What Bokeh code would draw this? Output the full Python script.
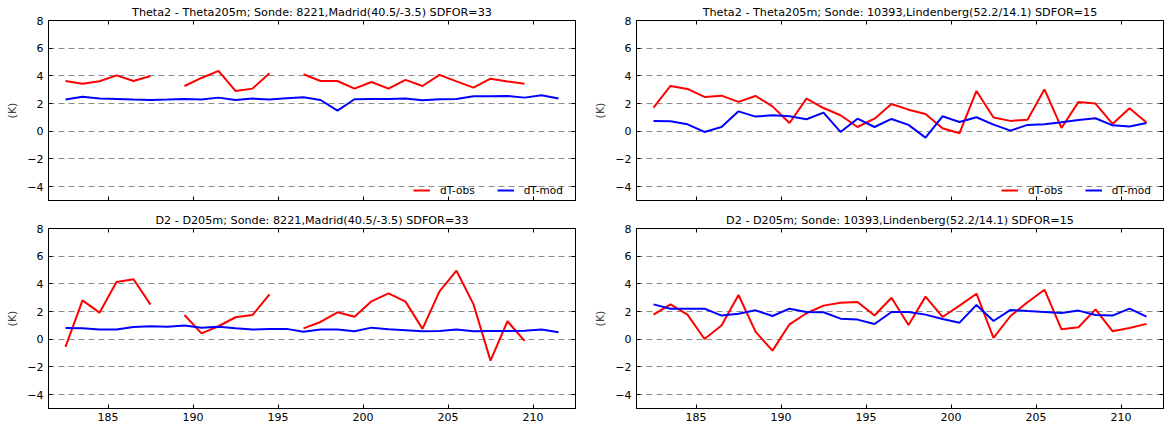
import numpy as np
from bokeh.plotting import figure
from bokeh.layouts import column, row
from bokeh.models import (FixedTicker, LinearAxis, Range1d,
                          CustomJSTickFormatter, Legend, LegendItem)
from bokeh.embed import file_html
from bokeh.resources import INLINE

nan = np.nan
days = [182.5 + i for i in range(30)]

# Theta2 - Theta205m, Madrid
madrid_theta_obs = [3.63, 3.44, 3.61, 4.04, 3.63, 3.99, nan, 3.27, 3.85, 4.36,
                    2.91, 3.08, 4.19, nan, 4.12, 3.63, 3.63, 3.08, 3.56, 3.08,
                    3.71, 3.27, 4.07, 3.60, 3.15, 3.80, 3.60, 3.44, nan, nan]
madrid_theta_mod = [2.29, 2.50, 2.36, 2.33, 2.29, 2.26, 2.29, 2.33, 2.29, 2.43,
                    2.26, 2.36, 2.29, 2.38, 2.45, 2.26, 1.49, 2.31, 2.33, 2.33,
                    2.36, 2.24, 2.31, 2.33, 2.53, 2.53, 2.55, 2.43, 2.60, 2.36]
# Theta2 - Theta205m, Lindenberg
lind_theta_obs = [1.71, 3.27, 3.06, 2.48, 2.57, 2.12, 2.55, 1.80, 0.60, 2.36,
                  1.68, 1.16, 0.31, 0.91, 1.97, 1.56, 1.25, 0.22, -0.14, 2.91,
                  0.99, 0.75, 0.84, 3.03, 0.24, 2.12, 2.00, 0.53, 1.66, 0.63]
lind_theta_mod = [0.75, 0.72, 0.50, -0.05, 0.31, 1.44, 1.06, 1.16, 1.08, 0.87,
                  1.35, -0.05, 0.91, 0.31, 0.89, 0.46, -0.46, 1.08, 0.67, 1.01,
                  0.48, 0.05, 0.46, 0.50, 0.65, 0.82, 0.94, 0.43, 0.34, 0.60]
# D2 - D205m, Madrid
madrid_d_obs = [-0.55, 2.81, 1.92, 4.13, 4.33, 2.50, nan, 1.75, 0.43, 0.94,
                1.59, 1.75, 3.25, nan, 0.79, 1.25, 1.95, 1.63, 2.74, 3.32,
                2.72, 0.75, 3.46, 4.95, 2.52, -1.54, 1.30, -0.12, nan, nan]
madrid_d_mod = [0.82, 0.79, 0.70, 0.70, 0.89, 0.94, 0.91, 0.99, 0.84, 0.91,
                0.79, 0.70, 0.75, 0.75, 0.55, 0.70, 0.70, 0.58, 0.84, 0.72,
                0.65, 0.58, 0.60, 0.70, 0.58, 0.60, 0.60, 0.62, 0.70, 0.50]
# D2 - D205m, Lindenberg
lind_d_obs = [1.78, 2.52, 1.78, 0.02, 0.99, 3.20, 0.55, -0.82, 1.08, 1.88,
              2.43, 2.64, 2.69, 1.72, 3.00, 1.03, 3.08, 1.61, 2.43, 3.29,
              0.10, 1.68, 2.67, 3.58, 0.72, 0.87, 2.16, 0.58, 0.82, 1.11]
lind_d_mod = [2.52, 2.21, 2.21, 2.21, 1.71, 1.85, 2.09, 1.68, 2.21, 1.97,
              1.95, 1.49, 1.42, 1.10, 1.97, 1.97, 1.78, 1.47, 1.20, 2.48,
              1.32, 2.12, 2.04, 1.97, 1.90, 2.07, 1.75, 1.71, 2.21, 1.63]

titles = [
    "Theta2 - Theta205m; Sonde: 8221,Madrid(40.5/-3.5) SDFOR=33",
    "Theta2 - Theta205m; Sonde: 10393,Lindenberg(52.2/14.1) SDFOR=15",
    "D2 - D205m; Sonde: 8221,Madrid(40.5/-3.5) SDFOR=33",
    "D2 - D205m; Sonde: 10393,Lindenberg(52.2/14.1) SDFOR=15",
]
x_ticks = [185, 190, 195, 200, 205, 210]
y_ticks = [-4, -2, 0, 2, 4, 6, 8]
series_names = ["dT-obs", "dT-mod"]

FONT = "DejaVu Sans"
fmt = CustomJSTickFormatter(code="return (tick < 0 ? '\u2212' : '') + Math.abs(tick).toString();")


def style_axis(ax, labels=True):
    ax.major_tick_in = 4
    ax.major_tick_out = 0
    ax.minor_tick_line_color = None
    ax.major_tick_line_color = "black"
    ax.axis_line_color = "black"
    if labels:
        ax.major_label_text_font = FONT
        ax.major_label_text_font_size = "11px"
        ax.major_label_text_color = "black"
    else:
        ax.major_label_text_font_size = "1px"
        ax.major_label_text_color = None
        ax.major_label_standoff = 0


def make_panel(title, obs, mod, width, height, left, right, top, bottom, xlabels):
    p = figure(width=width, height=height, output_backend="svg",
               toolbar_location=None, x_range=Range1d(181.5, 212.5),
               y_range=Range1d(-5, 8), min_border_left=left,
               min_border_right=right, min_border_top=top,
               min_border_bottom=bottom, title=title)
    p.title.align = "center"
    p.title.text_font = FONT
    p.title.text_font_size = "11.2px"
    p.title.text_font_style = "normal"
    p.title.text_color = "black"
    p.title.standoff = 3
    p.background_fill_color = "white"
    p.border_fill_color = "white"
    p.outline_line_color = "black"
    p.outline_line_alpha = 1.0
    p.xgrid.visible = False
    p.ygrid.ticker = FixedTicker(ticks=y_ticks)
    p.ygrid.grid_line_color = "#8c8c8c"
    p.ygrid.grid_line_dash = "6 4"
    p.ygrid.grid_line_width = 1

    p.xaxis.ticker = FixedTicker(ticks=x_ticks)
    p.yaxis.ticker = FixedTicker(ticks=y_ticks)
    p.yaxis.formatter = fmt
    style_axis(p.xaxis[0], labels=xlabels)
    if xlabels:
        p.xaxis.major_label_standoff = 4
    style_axis(p.yaxis[0])
    p.yaxis.major_label_standoff = 5
    p.yaxis.axis_label = "(K)"
    p.yaxis.axis_label_text_font = FONT
    p.yaxis.axis_label_text_font_size = "11px"
    p.yaxis.axis_label_text_font_style = "normal"
    p.yaxis.axis_label_standoff = 5

    top_ax = LinearAxis(ticker=FixedTicker(ticks=x_ticks))
    style_axis(top_ax, labels=False)
    p.add_layout(top_ax, "above")
    right_ax = LinearAxis(ticker=FixedTicker(ticks=y_ticks))
    style_axis(right_ax, labels=False)
    p.add_layout(right_ax, "right")

    r1 = p.line(days, obs, line_color="#ff0000", line_width=2)
    r2 = p.line(days, mod, line_color="#0000ff", line_width=2)

    if not xlabels:
        leg = Legend(items=[LegendItem(label=series_names[0], renderers=[r1]),
                            LegendItem(label=series_names[1], renderers=[r2])],
                     location=(365, 0), orientation="horizontal")
        leg.border_line_color = None
        leg.background_fill_alpha = 0
        leg.padding = 5
        leg.margin = 0
        leg.spacing = 22
        leg.glyph_width = 17
        leg.glyph_height = 20
        leg.label_height = 20
        leg.label_standoff = 10
        leg.label_text_font = FONT
        leg.label_text_font_size = "10.5px"
        leg.label_text_color = "black"
        p.add_layout(leg, "center")
    return p


tl = make_panel(titles[0], madrid_theta_obs, madrid_theta_mod, 585, 206, 48, 10, 20, 6, False)
tr = make_panel(titles[1], lind_theta_obs, lind_theta_mod, 582, 206, 51, 4, 20, 6, False)
bl = make_panel(titles[2], madrid_d_obs, madrid_d_mod, 585, 224, 48, 10, 22, 22, True)
br = make_panel(titles[3], lind_d_obs, lind_d_mod, 582, 224, 51, 4, 22, 22, True)

layout = column(row(tl, tr, spacing=0), row(bl, br, spacing=0), spacing=0)

open("out.html", "w").write(file_html(layout, INLINE))
